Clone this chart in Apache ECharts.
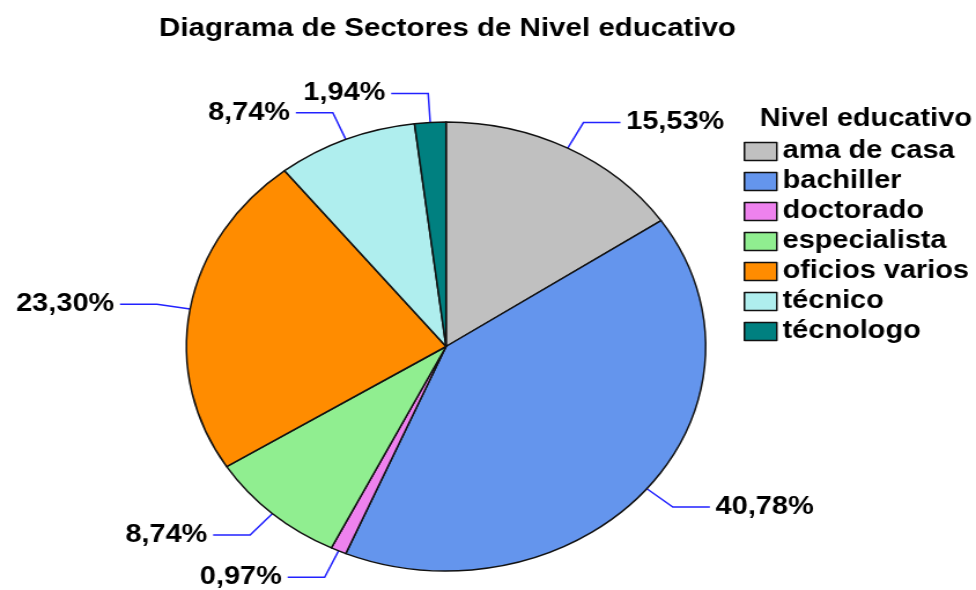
<!DOCTYPE html>
<html>
<head>
<meta charset="utf-8">
<script src="https://cdn.jsdelivr.net/npm/echarts@6/dist/echarts.min.js"></script>
<style>
  html, body { margin: 0; padding: 0; background: #fff; overflow: hidden; }
  /* the original picture is stretched sideways, so the whole chart is drawn narrow and widened */
  #chart { width: 844px; height: 590px; transform: scaleX(1.1564); transform-origin: 0 0; }
</style>
</head>
<body>
<div id="chart"></div>
<script>
// datos
const categorias = ['ama de casa', 'bachiller', 'doctorado', 'especialista', 'oficios varios', 'técnico', 'técnologo'];
const porcentajes = [15.53, 40.78, 0.97, 8.74, 23.30, 8.74, 1.94];
const colores = ['#C0C0C0', '#6495ED', '#EE82EE', '#90EE90', '#FF8C00', '#AFEEEE', '#008080'];

const fuente = 'Liberation Sans, Arial, sans-serif';

let myChart = echarts.init(document.getElementById('chart'));
myChart.setOption({
    animation: false,
    title: [
        {
            text: 'Diagrama de Sectores de Nivel educativo',
            left: 382,
            top: 11,
            textAlign: 'center',
            textStyle: { fontFamily: fuente, fontSize: 25.5, fontWeight: 'bold', color: '#000' }
        },
        {
            text: 'Nivel educativo',
            left: 652,
            top: 102,
            textStyle: { fontFamily: fuente, fontSize: 25, fontWeight: 'bold', color: '#000' }
        }
    ],
    legend: {
        orient: 'vertical',
        left: 638,
        top: 134,
        itemWidth: 28,
        itemHeight: 18,
        itemGap: 5,
        icon: 'rect',
        itemStyle: { borderColor: '#111', borderWidth: 1.5 },
        textStyle: { fontFamily: fuente, fontSize: 25, fontWeight: 'bold', color: '#000', padding: [0, 0, 0, 0] },
        data: categorias
    },
    series: [{
        type: 'pie',
        center: [385.7, 346.5],
        radius: 224.5,
        startAngle: 90,
        clockwise: true,
        avoidLabelOverlap: false,
        itemStyle: { borderColor: '#111', borderWidth: 1.5 },
        label: {
            show: true,
            position: 'outside',
            fontFamily: fuente,
            fontSize: 25,
            fontWeight: 'bold',
            color: '#000',
            distanceToLabelLine: 5,
            formatter: p => p.value.toFixed(2).replace('.', ',') + '%'
        },
        labelLine: {
            show: true,
            length: 29,
            length2: 32,
            lineStyle: { color: '#2222ff', width: 1.5 }
        },
        emphasis: { disabled: true },
        data: categorias.map((c, i) => ({ name: c, value: porcentajes[i], itemStyle: { color: colores[i] } }))
    }]
});
</script>
</body>
</html>
